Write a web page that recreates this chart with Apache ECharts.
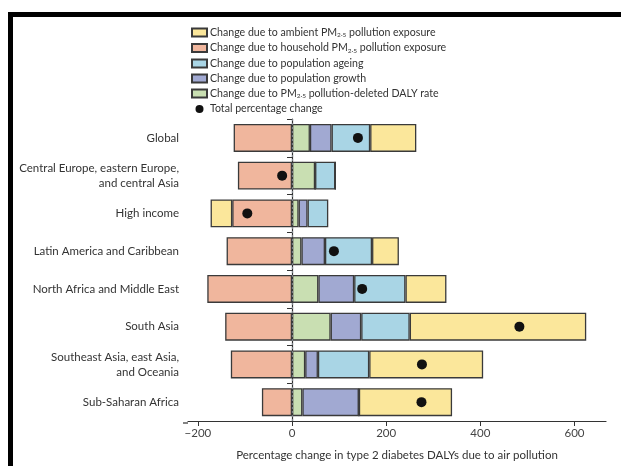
<!DOCTYPE html>
<html>
<head>
<meta charset="utf-8">
<script src="https://cdn.jsdelivr.net/npm/echarts@6/dist/echarts.min.js"></script>
<style>
  html, body { margin: 0; padding: 0; background: #fff; }
  #chart { width: 621px; height: 466px; }
</style>
</head>
<body>
<div id="chart"></div>
<script>
// Regions, top to bottom
const regions = [
  'Global',
  'Central Europe, eastern Europe,\nand central Asia',
  'High income',
  'Latin America and Caribbean',
  'North Africa and Middle East',
  'South Asia',
  'Southeast Asia, east Asia,\nand Oceania',
  'Sub-Saharan Africa'
];

// Decomposition of percentage change in type 2 diabetes DALYs (per region)
const householdPM = [-124, -115, -127, -139, -180, -142, -130, -64];
const dalyRate    = [38, 49, 14, 20, 56, 82, 28, 22];
const popGrowth   = [46, 0, 19, 50, 76, 65, 27, 120];
const popAgeing   = [82, 43, 44, 100, 109, 103, 109, 0];
const ambientPM   = [98, 0, -46, 57, 87, 375, 242, 198];
const totalChange = [140, -21, -95, 89, 149, 483, 276, 275];

const xTicks = [-200, 0, 200, 400, 600];

const names = {
  ambient: 'Change due to ambient PM{s|2·5} pollution exposure',
  household: 'Change due to household PM{s|2·5} pollution exposure',
  ageing: 'Change due to population ageing',
  growth: 'Change due to population growth',
  rate: 'Change due to PM{s|2·5} pollution-deleted DALY rate',
  total: 'Total percentage change'
};

const colors = {
  ambient: '#fbe79b',
  household: '#f0b69d',
  ageing: '#a9d5e5',
  growth: '#a1a9d2',
  rate: '#c9dfb2'
};

const fontFamily = 'Lato, "Open Sans", sans-serif';

function barSeries(key, values) {
  return {
    name: names[key],
    type: 'bar',
    stack: 'decomp',
    barWidth: 28,
    data: values,
    itemStyle: { color: colors[key], borderColor: '#3a3a3a', borderWidth: 1.3 },
    emphasis: { disabled: true }
  };
}

const series = [
  barSeries('household', householdPM),
  Object.assign(barSeries('rate', dalyRate), {
    markLine: {
      silent: true,
      symbol: 'none',
      label: { show: false },
      lineStyle: { color: '#7a8088', type: [2, 2], width: 1.2 },
      data: [{ xAxis: 0 }]
    }
  }),
  barSeries('growth', popGrowth),
  barSeries('ageing', popAgeing),
  barSeries('ambient', ambientPM),
  {
    name: names.total,
    type: 'scatter',
    symbol: 'circle',
    symbolSize: 10,
    z: 10,
    itemStyle: { color: '#111', opacity: 1 },
    emphasis: { disabled: true },
    data: totalChange.map((v, i) => [v, regions[i]])
  }
];

const chart = echarts.init(document.getElementById('chart'));
chart.setOption({
  animation: false,
  backgroundColor: '#fff',
  textStyle: { fontFamily },
  legend: {
    orient: 'vertical',
    left: 186,
    top: 22,
    itemWidth: 15,
    itemHeight: 8,
    itemGap: 4,
    selectedMode: false,
    data: [
      { name: names.ambient, icon: 'rect' },
      { name: names.household, icon: 'rect' },
      { name: names.ageing, icon: 'rect' },
      { name: names.growth, icon: 'rect' },
      { name: names.rate, icon: 'rect' },
      { name: names.total, icon: 'circle', itemStyle: { color: '#111', opacity: 1 } }
    ],
    textStyle: {
      fontFamily,
      fontSize: 10.6,
      color: '#333',
      padding: [0, 0, 0, -2],
      rich: {
        s: { fontSize: 6.5, color: '#333', fontFamily, padding: [5, 0, 0, 0] }
      }
    }
  },
  grid: { left: 188, right: 15, top: 119, bottom: 43 },
  xAxis: {
    type: 'value',
    min: -221,
    max: 667,
    name: 'Percentage change in type 2 diabetes DALYs due to air pollution',
    nameLocation: 'middle',
    nameGap: 28,
    nameTextStyle: { fontFamily, fontSize: 11.5, color: '#333' },
    splitLine: { show: false },
    axisLine: { show: true, onZero: false, lineStyle: { color: '#333', width: 1.2 } },
    axisTick: { show: true, length: 5, customValues: xTicks, lineStyle: { color: '#333' } },
    axisLabel: {
      customValues: xTicks,
      fontFamily,
      fontSize: 11.5,
      color: '#444',
      margin: 6,
      formatter: v => (v < 0 ? '\u2212' + Math.abs(v) : String(v))
    }
  },
  yAxis: {
    type: 'category',
    inverse: true,
    data: regions,
    axisLine: { show: true, lineStyle: { color: '#333', width: 1.2 } },
    axisTick: { show: true, length: 5, alignWithLabel: false, lineStyle: { color: '#333' } },
    axisLabel: {
      fontFamily,
      fontSize: 11.5,
      color: '#333',
      margin: 9,
      align: 'right',
      lineHeight: 15
    }
  },
  graphic: [
    { type: 'rect', shape: { x: 8, y: 12, width: 613, height: 5 }, style: { fill: '#000' }, silent: true },
    { type: 'rect', shape: { x: 8, y: 12, width: 5, height: 454 }, style: { fill: '#000' }, silent: true },
    { type: 'line', shape: { x1: 183, y1: 423, x2: 188, y2: 423 }, style: { stroke: '#333', lineWidth: 1.2 }, silent: true }
  ],
  series
});
</script>
</body>
</html>
